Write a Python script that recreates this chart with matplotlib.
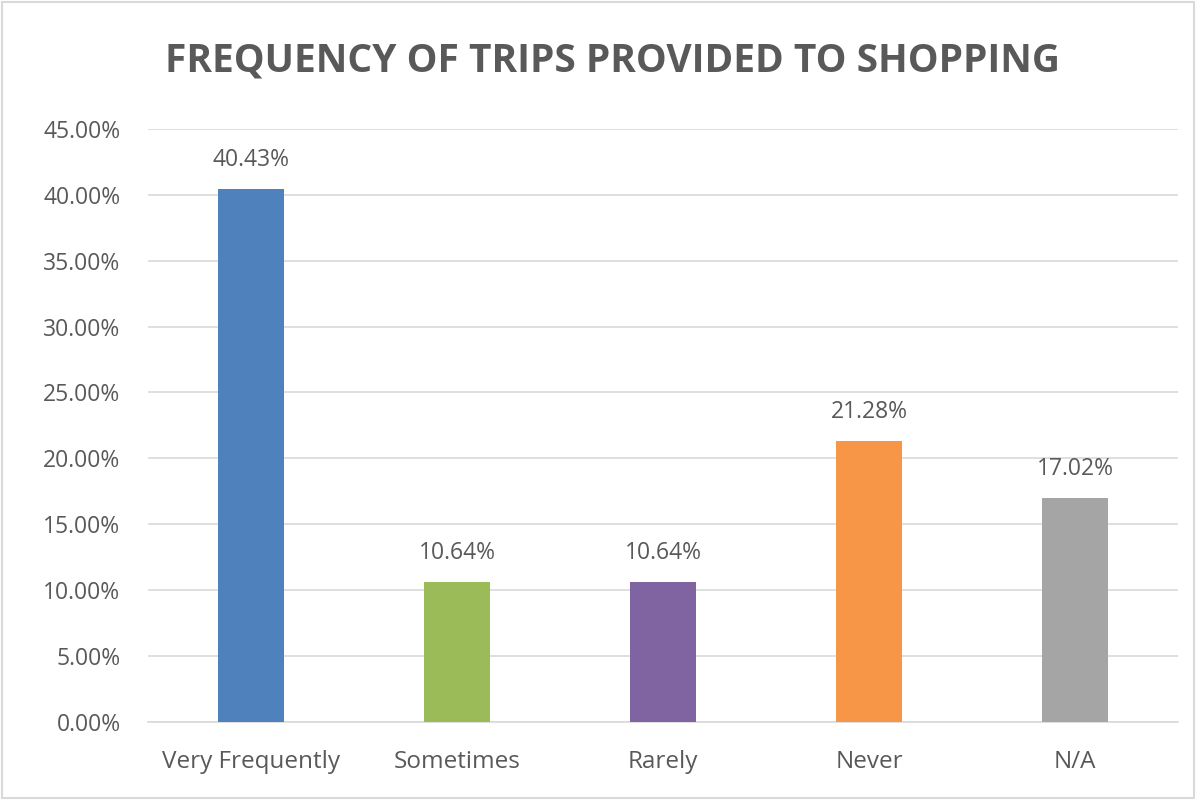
import matplotlib.pyplot as plt
from matplotlib.ticker import FuncFormatter

categories = ['Very Frequently', 'Sometimes', 'Rarely', 'Never', 'N/A']
values = [40.43, 10.64, 10.64, 21.28, 17.02]
colors = ['#4F81BD', '#9BBB59', '#8064A2', '#F79646', '#A5A5A5']

plt.rcParams['font.family'] = ['Open Sans', 'DejaVu Sans']
text_color = '#595959'

fig = plt.figure(figsize=(11.96, 8), dpi=100)
ax = fig.add_axes([0.124, 0.0975, 0.861, 0.7415])

x = range(len(categories))
bars = ax.bar(x, values, width=0.32, color=colors, zorder=3)

for b, v in zip(bars, values):
    ax.text(b.get_x() + b.get_width() / 2, v + 1.3, f'{v:.2f}%',
            ha='center', va='bottom', fontsize=16.5, color=text_color)

ax.set_xlim(-0.5, len(categories) - 0.5)
ax.set_ylim(0, 45)
ax.set_yticks(range(0, 46, 5))
ax.yaxis.set_major_formatter(FuncFormatter(lambda v, p: f'{v:.2f}%'))
ax.set_xticks(list(x))
ax.set_xticklabels(categories)
ax.tick_params(axis='both', length=0, labelsize=16.5, labelcolor=text_color)
ax.tick_params(axis='x', pad=20, labelsize=17.5)
ax.tick_params(axis='y', pad=20)

ax.grid(axis='y', color='#D9D9D9', linewidth=1.2, zorder=0)
for s in ['top', 'right', 'left']:
    ax.spines[s].set_visible(False)
ax.spines['bottom'].set_color('#D9D9D9')
ax.spines['bottom'].set_linewidth(1.2)

fig.text(0.512, 0.924, 'FREQUENCY OF TRIPS PROVIDED TO SHOPPING', ha='center', va='center',
         fontsize=28, fontweight='bold', color=text_color)

fig.patches.append(plt.Rectangle((0.002, 0.002), 0.996, 0.996, transform=fig.transFigure,
                                 fill=False, edgecolor='#D9D9D9', linewidth=1.5))

plt.savefig('out.png')
